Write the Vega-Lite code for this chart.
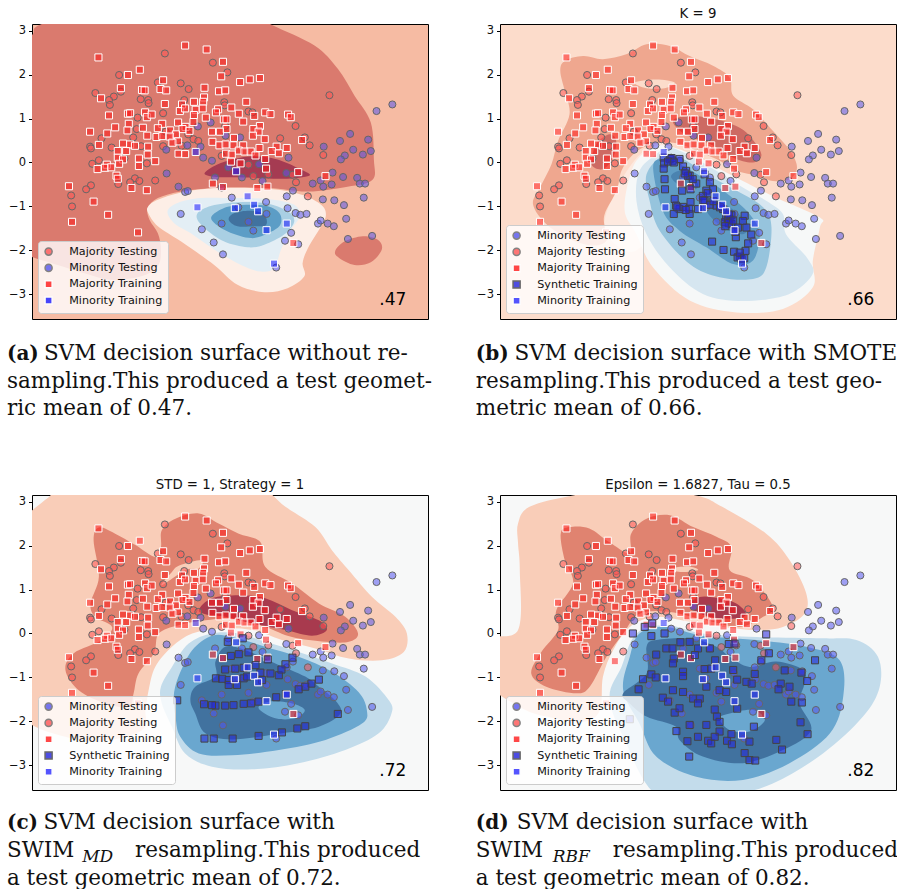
{"$schema":"https://vega.github.io/schema/vega-lite/v6.json","padding":{"left":6,"top":6,"right":0,"bottom":0},"background":"white","bounds":"flush","spacing":{"row":176,"column":72},"columns":2,
"resolve":{"scale":{"color":"independent","fill":"independent","stroke":"independent","shape":"independent","size":"independent","fillOpacity":"independent"},"legend":{"fill":"independent","stroke":"independent","shape":"independent","size":"independent","fillOpacity":"independent"}},
"config":{"font":"DejaVu Sans","legend":{"orient":"bottom-left","offset":6,"fillColor":"rgba(255,255,255,0.8)","strokeColor":"#cccccc","cornerRadius":3,"padding":5,"labelFontSize":11.2,"labelColor":"#111","labelFont":"DejaVu Sans","rowPadding":2.3,"symbolSize":40,"symbolOpacity":0.8,"labelOffset":15,"titleLimit":0,"labelLimit":0},"axis":{"labelFontSize":11.5,"labelColor":"#111","tickColor":"#000","tickSize":3.5,"domain":false,"grid":false,"labelPadding":3},"title":{"font":"DejaVu Sans","fontSize":13.3,"fontWeight":"normal","offset":4,"color":"#111"}},
"datasets":{
"tests":[
{"c":"MT","x":3.02,"y":2.48},{"c":"MT","x":4.11,"y":2.27},{"c":"MT","x":4.44,"y":2.05},{"c":"MT","x":1.98,"y":1.99},{"c":"MT","x":2.86,"y":1.82},{"c":"MT","x":3.38,"y":1.8},{"c":"MT","x":3.56,"y":1.67},{"c":"MT","x":1.44,"y":1.58},{"c":"MT","x":2.02,"y":1.61},{"c":"MT","x":1.86,"y":1.5},{"c":"MT","x":1.75,"y":1.42},{"c":"MT","x":1.77,"y":1.31},{"c":"MT","x":2.47,"y":1.44},{"c":"MT","x":2.64,"y":1.42},{"c":"MT","x":2.65,"y":1.35},{"c":"MT","x":3.46,"y":1.42},{"c":"MT","x":4.37,"y":1.37},{"c":"MT","x":4.38,"y":1.3},{"c":"MT","x":2.98,"y":1.12},{"c":"MT","x":2.4,"y":1.02},{"c":"MT","x":4.92,"y":1.16},{"c":"MT","x":5.01,"y":1.14},{"c":"MT","x":6.76,"y":1.53},{"c":"MT","x":5.99,"y":0.83},{"c":"MT","x":2.38,"y":0.76},{"c":"MT","x":3.04,"y":0.7},{"c":"MT","x":2.3,"y":0.57},{"c":"MT","x":1.58,"y":0.55},{"c":"MT","x":1.32,"y":0.36},{"c":"MT","x":1.34,"y":0.32},{"c":"MT","x":1.81,"y":0.34},{"c":"MT","x":2.48,"y":0.37},{"c":"MT","x":2.98,"y":0.37},{"c":"MT","x":3.4,"y":0.38},{"c":"MT","x":3.67,"y":0.53},{"c":"MT","x":3.78,"y":0.49},{"c":"MT","x":5.64,"y":0.55},{"c":"MT","x":6.2,"y":0.57},{"c":"MT","x":6.31,"y":0.39},{"c":"MT","x":6.62,"y":0.17},{"c":"MT","x":1.52,"y":0.05},{"c":"MT","x":1.37,"y":-0.03},{"c":"MT","x":2.1,"y":0.09},{"c":"MT","x":2.61,"y":-0.02},{"c":"MT","x":4.92,"y":-0.05},{"c":"MT","x":2.34,"y":-0.36},{"c":"MT","x":2.23,"y":-0.45},{"c":"MT","x":2.44,"y":-0.42},{"c":"MT","x":1.96,"y":-0.49},{"c":"MT","x":2.8,"y":-0.41},{"c":"MT","x":1.34,"y":-0.52},{"c":"MT","x":1.23,"y":-0.61},{"c":"MT","x":0.89,"y":-0.75},{"c":"MT","x":0.91,"y":-1.0},{"c":"MT","x":5.92,"y":-0.28},{"c":"MT","x":6.0,"y":-0.45},{"c":"MT","x":6.27,"y":-0.77},{"c":"MT","x":5.03,"y":-0.31},{"c":"MT","x":5.37,"y":-0.27},{"c":"MT","x":4.31,"y":0.15},{"c":"MT","x":4.39,"y":0.83},{"c":"MT","x":3.55,"y":0.64},
{"c":"NT","x":8.19,"y":1.32},{"c":"NT","x":7.83,"y":1.17},{"c":"NT","x":7.23,"y":0.65},{"c":"NT","x":7.0,"y":0.49},{"c":"NT","x":7.64,"y":0.52},{"c":"NT","x":6.63,"y":0.36},{"c":"NT","x":7.3,"y":0.29},{"c":"NT","x":7.7,"y":0.26},{"c":"NT","x":7.11,"y":0.16},{"c":"NT","x":7.02,"y":0.07},{"c":"NT","x":7.52,"y":0.18},{"c":"NT","x":6.83,"y":-0.23},{"c":"NT","x":5.78,"y":-0.24},{"c":"NT","x":7.07,"y":-0.33},{"c":"NT","x":7.39,"y":-0.35},{"c":"NT","x":6.56,"y":-0.41},{"c":"NT","x":6.38,"y":-0.48},{"c":"NT","x":6.62,"y":-0.55},{"c":"NT","x":6.81,"y":-0.5},{"c":"NT","x":7.45,"y":-0.48},{"c":"NT","x":7.57,"y":-0.48},{"c":"NT","x":5.93,"y":-0.64},{"c":"NT","x":5.79,"y":-0.77},{"c":"NT","x":6.61,"y":-0.84},{"c":"NT","x":6.87,"y":-0.86},{"c":"NT","x":7.09,"y":-0.97},{"c":"NT","x":7.54,"y":-0.8},{"c":"NT","x":5.81,"y":-1.04},{"c":"NT","x":5.99,"y":-1.15},{"c":"NT","x":6.1,"y":-1.19},{"c":"NT","x":6.24,"y":-1.17},{"c":"NT","x":6.5,"y":-1.39},{"c":"NT","x":6.56,"y":-1.32},{"c":"NT","x":6.72,"y":-1.39},{"c":"NT","x":6.86,"y":-1.45},{"c":"NT","x":7.14,"y":-1.28},{"c":"NT","x":7.18,"y":-1.74},{"c":"NT","x":7.73,"y":-1.67},{"c":"NT","x":5.89,"y":-1.6},{"c":"NT","x":6.05,"y":-1.86},{"c":"NT","x":3.06,"y":-0.25},{"c":"NT","x":3.33,"y":-0.55},{"c":"NT","x":3.48,"y":-0.67},{"c":"NT","x":3.54,"y":-0.65},{"c":"NT","x":3.38,"y":-1.17},{"c":"NT","x":3.86,"y":-1.52},{"c":"NT","x":4.13,"y":-1.82},{"c":"NT","x":4.34,"y":-2.09},{"c":"NT","x":5.55,"y":-2.39},{"c":"NT","x":3.05,"y":0.29},{"c":"NT","x":3.77,"y":0.82},{"c":"NT","x":4.06,"y":0.91},{"c":"NT","x":4.4,"y":0.61},{"c":"NT","x":4.73,"y":0.57},{"c":"NT","x":5.83,"y":0.11},{"c":"NT","x":5.16,"y":-0.04},{"c":"NT","x":5.24,"y":-0.42},{"c":"NT","x":3.83,"y":0.36},{"c":"NT","x":3.53,"y":0.39},{"c":"NT","x":5.32,"y":-0.9},{"c":"NT","x":4.31,"y":-1.39},{"c":"NT","x":4.92,"y":-1.35},{"c":"NT","x":5.03,"y":-1.55},{"c":"NT","x":5.33,"y":-1.17},{"c":"NT","x":5.75,"y":-1.78},{"c":"NT","x":4.31,"y":-0.57},{"c":"NT","x":4.16,"y":-0.34},{"c":"NT","x":4.77,"y":-0.34},{"c":"NT","x":4.54,"y":-0.8},{"c":"NT","x":3.89,"y":0.11},{"c":"NT","x":4.09,"y":0.04},{"c":"NT","x":4.46,"y":-0.11},{"c":"NT","x":4.69,"y":-1.02}],
"majR":[
{"c":"MR","x":1.51,"y":2.39},{"c":"MR","x":3.48,"y":2.66},{"c":"MR","x":3.97,"y":2.57},{"c":"MR","x":4.34,"y":2.29},{"c":"MR","x":2.45,"y":2.11},{"c":"MR","x":2.18,"y":1.99},{"c":"MR","x":2.98,"y":1.87},{"c":"MR","x":4.3,"y":1.96},{"c":"MR","x":4.73,"y":1.83},{"c":"MR","x":4.95,"y":1.89},{"c":"MR","x":5.18,"y":1.92},{"c":"MR","x":2.02,"y":1.69},{"c":"MR","x":2.5,"y":1.65},{"c":"MR","x":2.56,"y":1.64},{"c":"MR","x":2.92,"y":1.67},{"c":"MR","x":3.05,"y":1.64},{"c":"MR","x":3.92,"y":1.7},{"c":"MR","x":4.25,"y":1.62},{"c":"MR","x":4.39,"y":1.64},{"c":"MR","x":1.57,"y":1.46},{"c":"MR","x":3.91,"y":1.48},{"c":"MR","x":3.02,"y":1.33},{"c":"MR","x":3.68,"y":1.38},{"c":"MR","x":3.89,"y":1.38},{"c":"MR","x":4.87,"y":1.38},{"c":"MR","x":3.41,"y":1.32},{"c":"MR","x":3.36,"y":1.17},{"c":"MR","x":3.48,"y":1.23},{"c":"MR","x":3.72,"y":1.2},{"c":"MR","x":3.88,"y":1.23},{"c":"MR","x":4.53,"y":1.25},{"c":"MR","x":4.23,"y":1.21},{"c":"MR","x":4.18,"y":1.14},{"c":"MR","x":4.7,"y":1.11},{"c":"MR","x":5.3,"y":1.14},{"c":"MR","x":5.42,"y":1.1},{"c":"MR","x":5.05,"y":1.06},{"c":"MR","x":5.82,"y":1.09},{"c":"MR","x":5.88,"y":1.03},{"c":"MR","x":2.18,"y":1.11},{"c":"MR","x":2.23,"y":1.12},{"c":"MR","x":2.57,"y":1.14},{"c":"MR","x":2.61,"y":1.03},{"c":"MR","x":2.72,"y":1.09},{"c":"MR","x":1.75,"y":1.07},{"c":"MR","x":3.68,"y":1.08},{"c":"MR","x":3.95,"y":1.02},{"c":"MR","x":4.36,"y":0.98},{"c":"MR","x":4.42,"y":0.98},{"c":"MR","x":4.8,"y":0.93},{"c":"MR","x":3.67,"y":0.92},{"c":"MR","x":3.32,"y":0.91},{"c":"MR","x":2.96,"y":0.88},{"c":"MR","x":2.2,"y":0.88},{"c":"MR","x":1.89,"y":0.8},{"c":"MR","x":5.18,"y":0.83},{"c":"MR","x":5.03,"y":0.76},{"c":"MR","x":4.42,"y":0.76},{"c":"MR","x":2.86,"y":0.78},{"c":"MR","x":2.52,"y":0.79},{"c":"MR","x":3.49,"y":0.81},{"c":"MR","x":3.42,"y":0.76},{"c":"MR","x":3.58,"y":0.72},{"c":"MR","x":2.17,"y":0.73},{"c":"MR","x":3.14,"y":0.73},{"c":"MR","x":1.32,"y":0.7},{"c":"MR","x":1.71,"y":0.66},{"c":"MR","x":4.09,"y":0.7},{"c":"MR","x":4.27,"y":0.7},{"c":"MR","x":5.15,"y":0.7},{"c":"MR","x":3.27,"y":0.64},{"c":"MR","x":2.62,"y":0.61},{"c":"MR","x":2.83,"y":0.58},{"c":"MR","x":2.96,"y":0.6},{"c":"MR","x":3.13,"y":0.59},{"c":"MR","x":5.02,"y":0.61},{"c":"MR","x":4.59,"y":0.56},{"c":"MR","x":5.29,"y":0.53},{"c":"MR","x":6.14,"y":0.51},{"c":"MR","x":3.32,"y":0.48},{"c":"MR","x":3.19,"y":0.45},{"c":"MR","x":4.1,"y":0.47},{"c":"MR","x":1.52,"y":0.4},{"c":"MR","x":2.07,"y":0.43},{"c":"MR","x":2.23,"y":0.41},{"c":"MR","x":2.34,"y":0.38},{"c":"MR","x":2.64,"y":0.36},{"c":"MR","x":4.26,"y":0.39},{"c":"MR","x":4.4,"y":0.41},{"c":"MR","x":4.58,"y":0.39},{"c":"MR","x":4.8,"y":0.39},{"c":"MR","x":5.17,"y":0.33},{"c":"MR","x":5.56,"y":0.36},{"c":"MR","x":5.79,"y":0.33},{"c":"MR","x":1.95,"y":0.26},{"c":"MR","x":2.14,"y":0.26},{"c":"MR","x":4.7,"y":0.27},{"c":"MR","x":4.83,"y":0.25},{"c":"MR","x":4.97,"y":0.25},{"c":"MR","x":5.45,"y":0.26},{"c":"MR","x":5.61,"y":0.21},{"c":"MR","x":3.33,"y":0.2},{"c":"MR","x":3.48,"y":0.19},{"c":"MR","x":4.41,"y":0.2},{"c":"MR","x":4.54,"y":0.18},{"c":"MR","x":2.63,"y":0.18},{"c":"MR","x":5.08,"y":0.16},{"c":"MR","x":1.95,"y":0.11},{"c":"MR","x":2.43,"y":0.09},{"c":"MR","x":5.3,"y":0.08},{"c":"MR","x":2.07,"y":0.07},{"c":"MR","x":2.8,"y":0.03},{"c":"MR","x":1.98,"y":-0.03},{"c":"MR","x":4.52,"y":0.02},{"c":"MR","x":4.74,"y":-0.02},{"c":"MR","x":1.7,"y":-0.05},{"c":"MR","x":2.43,"y":-0.08},{"c":"MR","x":1.66,"y":-0.12},{"c":"MR","x":1.49,"y":-0.15},{"c":"MR","x":1.8,"y":-0.11},{"c":"MR","x":5.32,"y":-0.14},{"c":"MR","x":6.05,"y":-0.22},{"c":"MR","x":6.67,"y":-0.31},{"c":"MR","x":1.92,"y":-0.3},{"c":"MR","x":1.95,"y":-0.37},{"c":"MR","x":0.84,"y":-0.54},{"c":"MR","x":2.26,"y":-0.58},{"c":"MR","x":2.61,"y":-0.63},{"c":"MR","x":4.11,"y":-0.48},{"c":"MR","x":4.34,"y":-0.56},{"c":"MR","x":5.12,"y":-0.58},{"c":"MR","x":5.35,"y":-0.55},{"c":"MR","x":1.4,"y":-0.89},{"c":"MR","x":1.73,"y":-1.19},{"c":"MR","x":0.91,"y":-1.35},{"c":"MR","x":2.41,"y":-1.59},{"c":"MR","x":5.94,"y":-1.83}],
"minR":[{"c":"NR","x":3.72,"y":0.24},{"c":"NR","x":4.64,"y":-0.2},{"c":"NR","x":4.9,"y":-0.77},{"c":"NR","x":5.05,"y":-0.96},{"c":"NR","x":5.14,"y":-1.11},{"c":"NR","x":4.61,"y":-1.04},{"c":"NR","x":3.76,"y":-1.02},{"c":"NR","x":5.79,"y":-1.39},{"c":"NR","x":5.33,"y":-1.54},{"c":"NR","x":5.5,"y":-2.3}],
"synB":[{"c":"S","x":3.72,"y":0.11},{"c":"S","x":3.73,"y":-0.02},{"c":"S","x":3.72,"y":-0.14},{"c":"S","x":3.86,"y":0.08},{"c":"S","x":3.92,"y":0.04},{"c":"S","x":4.08,"y":0.08},{"c":"S","x":4.16,"y":-0.09},{"c":"S","x":4.23,"y":-0.19},{"c":"S","x":4.31,"y":-0.3},{"c":"S","x":4.46,"y":-0.48},{"c":"S","x":3.74,"y":-0.38},{"c":"S","x":3.75,"y":-0.61},{"c":"S","x":3.97,"y":-0.83},{"c":"S","x":4.33,"y":-0.9},{"c":"S","x":4.65,"y":-0.27},{"c":"S","x":4.77,"y":-0.45},{"c":"S","x":4.84,"y":-0.61},{"c":"S","x":4.69,"y":-0.64},{"c":"S","x":4.61,"y":-0.76},{"c":"S","x":4.65,"y":-0.87},{"c":"S","x":4.77,"y":-0.96},{"c":"S","x":4.92,"y":-0.98},{"c":"S","x":5.07,"y":-1.06},{"c":"S","x":4.08,"y":-1.06},{"c":"S","x":4.16,"y":-1.01},{"c":"S","x":3.95,"y":-1.17},{"c":"S","x":4.31,"y":-1.17},{"c":"S","x":4.5,"y":-1.06},{"c":"S","x":4.14,"y":-0.64},{"c":"S","x":4.33,"y":-0.61},{"c":"S","x":4.27,"y":-0.3},{"c":"S","x":5.14,"y":-1.25},{"c":"S","x":5.22,"y":-1.29},{"c":"S","x":5.11,"y":-1.36},{"c":"S","x":5.26,"y":-1.4},{"c":"S","x":5.56,"y":-1.21},{"c":"S","x":5.52,"y":-1.33},{"c":"S","x":5.6,"y":-1.48},{"c":"S","x":5.41,"y":-1.48},{"c":"S","x":5.71,"y":-1.64},{"c":"S","x":5.36,"y":-1.7},{"c":"S","x":5.64,"y":-1.84},{"c":"S","x":4.82,"y":-1.8},{"c":"S","x":5.08,"y":-1.99},{"c":"S","x":5.32,"y":-2.03},{"c":"S","x":5.58,"y":-2.01},{"c":"S","x":5.45,"y":-2.14},{"c":"S","x":5.49,"y":-2.2},{"c":"S","x":5.18,"y":-1.28},{"c":"S","x":5.2,"y":-1.38},{"c":"S","x":3.9,"y":0.1},{"c":"S","x":4.0,"y":-0.98},{"c":"S","x":4.62,"y":-0.86},{"c":"S","x":4.3,"y":-1.05},{"c":"S","x":5.4,"y":-2.16},{"c":"S","x":5.26,"y":-1.2},{"c":"S","x":3.82,"y":0.02},{"c":"S","x":3.95,"y":0.0},{"c":"S","x":4.2,"y":-0.25},{"c":"S","x":4.38,"y":-0.38},{"c":"S","x":4.03,"y":-1.02},{"c":"S","x":4.22,"y":-1.08},{"c":"S","x":4.72,"y":-0.7},{"c":"S","x":4.85,"y":-0.88},{"c":"S","x":5.0,"y":-1.02},{"c":"S","x":5.2,"y":-1.18},{"c":"S","x":5.3,"y":-1.32},{"c":"S","x":5.12,"y":-1.45},{"c":"S","x":5.35,"y":-1.58},{"c":"S","x":5.45,"y":-2.05},{"c":"S","x":5.55,"y":-2.18}],
"synC":[{"c":"S","x":4.45,"y":-0.19},{"c":"S","x":4.79,"y":-0.11},{"c":"S","x":4.52,"y":-0.51},{"c":"S","x":4.7,"y":-0.47},{"c":"S","x":4.92,"y":-0.43},{"c":"S","x":5.36,"y":-0.59},{"c":"S","x":5.76,"y":-0.7},{"c":"S","x":5.92,"y":-0.55},{"c":"S","x":4.39,"y":-0.82},{"c":"S","x":4.62,"y":-0.8},{"c":"S","x":4.81,"y":-0.78},{"c":"S","x":5.08,"y":-0.72},{"c":"S","x":5.19,"y":-0.89},{"c":"S","x":5.42,"y":-0.91},{"c":"S","x":5.61,"y":-0.95},{"c":"S","x":5.67,"y":-0.82},{"c":"S","x":4.18,"y":-1.02},{"c":"S","x":4.32,"y":-1.03},{"c":"S","x":4.47,"y":-1.06},{"c":"S","x":4.81,"y":-1.02},{"c":"S","x":4.89,"y":-0.98},{"c":"S","x":5.23,"y":-1.06},{"c":"S","x":4.66,"y":-1.17},{"c":"S","x":4.47,"y":-1.17},{"c":"S","x":6.52,"y":-1.05},{"c":"S","x":6.35,"y":-1.14},{"c":"S","x":6.21,"y":-1.21},{"c":"S","x":6.06,"y":-1.27},{"c":"S","x":5.77,"y":-1.38},{"c":"S","x":5.55,"y":-1.45},{"c":"S","x":5.15,"y":-1.55},{"c":"S","x":4.98,"y":-1.59},{"c":"S","x":4.81,"y":-1.6},{"c":"S","x":4.58,"y":-1.63},{"c":"S","x":4.39,"y":-1.64},{"c":"S","x":4.17,"y":-1.64},{"c":"S","x":4.09,"y":-1.63},{"c":"S","x":3.91,"y":-1.61},{"c":"S","x":3.3,"y":-1.52},{"c":"S","x":6.95,"y":-1.83},{"c":"S","x":6.21,"y":-2.11},{"c":"S","x":6.03,"y":-2.16},{"c":"S","x":5.68,"y":-2.25},{"c":"S","x":5.15,"y":-2.33},{"c":"S","x":4.56,"y":-2.39},{"c":"S","x":4.13,"y":-2.39},{"c":"S","x":3.92,"y":-2.39}],
"synD":[{"c":"S","x":3.29,"y":0.15},{"c":"S","x":3.46,"y":0.23},{"c":"S","x":3.02,"y":0.0},{"c":"S","x":3.44,"y":-0.06},{"c":"S","x":6.05,"y":-0.02},{"c":"S","x":3.74,"y":0.0},{"c":"S","x":4.1,"y":-0.2},{"c":"S","x":4.31,"y":-0.19},{"c":"S","x":4.5,"y":-0.34},{"c":"S","x":5.2,"y":-0.24},{"c":"S","x":5.33,"y":-0.23},{"c":"S","x":3.78,"y":-0.34},{"c":"S","x":3.92,"y":-0.34},{"c":"S","x":4.77,"y":-0.34},{"c":"S","x":3.55,"y":-0.48},{"c":"S","x":4.43,"y":-0.49},{"c":"S","x":6.11,"y":-0.45},{"c":"S","x":3.95,"y":-0.57},{"c":"S","x":3.93,"y":-0.68},{"c":"S","x":4.89,"y":-0.61},{"c":"S","x":7.16,"y":-0.61},{"c":"S","x":5.94,"y":-0.61},{"c":"S","x":4.65,"y":-0.81},{"c":"S","x":4.8,"y":-0.8},{"c":"S","x":5.3,"y":-0.83},{"c":"S","x":5.79,"y":-0.92},{"c":"S","x":6.47,"y":-0.84},{"c":"S","x":6.85,"y":-0.89},{"c":"S","x":4.16,"y":-0.87},{"c":"S","x":4.16,"y":-0.97},{"c":"S","x":3.44,"y":-0.93},{"c":"S","x":3.25,"y":-1.04},{"c":"S","x":3.54,"y":-1.0},{"c":"S","x":6.98,"y":-1.08},{"c":"S","x":5.39,"y":-1.05},{"c":"S","x":5.6,"y":-1.1},{"c":"S","x":5.72,"y":-1.14},{"c":"S","x":6.38,"y":-1.14},{"c":"S","x":6.58,"y":-1.21},{"c":"S","x":6.33,"y":-1.27},{"c":"S","x":3.15,"y":-1.27},{"c":"S","x":3.93,"y":-1.29},{"c":"S","x":4.16,"y":-1.33},{"c":"S","x":4.69,"y":-1.21},{"c":"S","x":4.99,"y":-1.29},{"c":"S","x":5.14,"y":-1.33},{"c":"S","x":3.7,"y":-1.46},{"c":"S","x":3.82,"y":-1.55},{"c":"S","x":4.39,"y":-1.48},{"c":"S","x":4.54,"y":-1.48},{"c":"S","x":4.5,"y":-1.59},{"c":"S","x":6.62,"y":-1.55},{"c":"S","x":6.86,"y":-1.57},{"c":"S","x":5.39,"y":-1.71},{"c":"S","x":4.88,"y":-1.73},{"c":"S","x":3.97,"y":-1.8},{"c":"S","x":4.08,"y":-1.7},{"c":"S","x":4.93,"y":-1.89},{"c":"S","x":4.99,"y":-2.01},{"c":"S","x":4.69,"y":-2.08},{"c":"S","x":4.31,"y":-2.08},{"c":"S","x":5.77,"y":-2.12},{"c":"S","x":6.83,"y":-2.02},{"c":"S","x":6.99,"y":-2.29},{"c":"S","x":4.99,"y":-2.23},{"c":"S","x":4.01,"y":-2.22},{"c":"S","x":4.5,"y":-2.35},{"c":"S","x":4.26,"y":-2.45},{"c":"S","x":4.73,"y":-2.44},{"c":"S","x":4.8,"y":-2.5},{"c":"S","x":4.88,"y":-2.35},{"c":"S","x":5.16,"y":-2.44},{"c":"S","x":5.27,"y":-2.52},{"c":"S","x":5.26,"y":-2.29},{"c":"S","x":5.67,"y":-2.46},{"c":"S","x":6.28,"y":-2.42},{"c":"S","x":6.41,"y":-2.64},{"c":"S","x":5.56,"y":-2.72},{"c":"S","x":5.67,"y":-2.88},{"c":"S","x":5.8,"y":-2.89},{"c":"S","x":4.3,"y":-2.8},{"c":"S","x":2.95,"y":-1.95}],
"ra":[
{"p":1,"x":-0.4,"y":2.6},{"p":1,"x":0.0,"y":2.9},{"p":1,"x":0.25,"y":3.16},{"p":1,"x":2,"y":3.6},{"p":1,"x":4.5,"y":3.6},{"p":1,"x":5.43,"y":3.14},{"p":1,"x":6.42,"y":2.66},{"p":1,"x":6.95,"y":2.13},{"p":1,"x":7.33,"y":1.52},{"p":1,"x":7.7,"y":0.91},{"p":1,"x":7.77,"y":0.07},{"p":1,"x":7.74,"y":-0.39},{"p":1,"x":7.17,"y":-0.55},{"p":1,"x":6.27,"y":-0.66},{"p":1,"x":5.36,"y":-0.58},{"p":1,"x":4.22,"y":-0.58},{"p":1,"x":3.39,"y":-0.66},{"p":1,"x":2.86,"y":-0.81},{"p":1,"x":2.63,"y":-1.04},{"p":1,"x":2.67,"y":-1.3},{"p":1,"x":2.86,"y":-1.61},{"p":1,"x":2.93,"y":-1.98},{"p":1,"x":2.86,"y":-2.36},{"p":1,"x":2.48,"y":-2.59},{"p":1,"x":1.8,"y":-2.67},{"p":1,"x":1.19,"y":-2.52},{"p":1,"x":0.58,"y":-2.33},{"p":1,"x":0.0,"y":-2.15},{"p":1,"x":-0.6,"y":-1.9},{"p":1,"x":-0.6,"y":0.5},
{"p":2,"x":6.89,"y":-2.02},{"p":2,"x":7.1,"y":-1.8},{"p":2,"x":7.52,"y":-1.68},{"p":2,"x":7.86,"y":-1.76},{"p":2,"x":7.95,"y":-1.98},{"p":2,"x":7.7,"y":-2.27},{"p":2,"x":7.33,"y":-2.33},{"p":2,"x":6.98,"y":-2.17},
{"p":3,"x":3.92,"y":-0.25},{"p":3,"x":4.2,"y":-0.05},{"p":3,"x":4.6,"y":0.08},{"p":3,"x":5.05,"y":0.14},{"p":3,"x":5.58,"y":0.07},{"p":3,"x":6.11,"y":-0.16},{"p":3,"x":6.3,"y":-0.3},{"p":3,"x":5.7,"y":-0.37},{"p":3,"x":4.8,"y":-0.34},{"p":3,"x":4.2,"y":-0.33},
{"p":4,"x":2.64,"y":-1.0},{"p":4,"x":2.86,"y":-0.85},{"p":4,"x":3.39,"y":-0.68},{"p":4,"x":4.22,"y":-0.58},{"p":4,"x":5.36,"y":-0.6},{"p":4,"x":6.11,"y":-0.73},{"p":4,"x":6.57,"y":-0.96},{"p":4,"x":6.68,"y":-1.19},{"p":4,"x":6.57,"y":-1.45},{"p":4,"x":6.27,"y":-1.95},{"p":4,"x":6.15,"y":-2.29},{"p":4,"x":6.19,"y":-2.59},{"p":4,"x":5.81,"y":-2.86},{"p":4,"x":5.28,"y":-2.95},{"p":4,"x":4.67,"y":-2.78},{"p":4,"x":4.14,"y":-2.33},{"p":4,"x":3.39,"y":-1.8},{"p":4,"x":2.86,"y":-1.45},{"p":4,"x":2.64,"y":-1.15},
{"p":5,"x":3.08,"y":-1.11},{"p":5,"x":3.31,"y":-0.92},{"p":5,"x":3.84,"y":-0.81},{"p":5,"x":4.6,"y":-0.81},{"p":5,"x":5.36,"y":-0.83},{"p":5,"x":5.96,"y":-0.96},{"p":5,"x":6.08,"y":-1.23},{"p":5,"x":5.89,"y":-1.53},{"p":5,"x":5.66,"y":-1.98},{"p":5,"x":5.51,"y":-2.4},{"p":5,"x":5.2,"y":-2.48},{"p":5,"x":4.75,"y":-2.33},{"p":5,"x":4.14,"y":-1.98},{"p":5,"x":3.61,"y":-1.61},{"p":5,"x":3.23,"y":-1.38},
{"p":6,"x":3.74,"y":-1.23},{"p":6,"x":3.92,"y":-1.04},{"p":6,"x":4.45,"y":-0.92},{"p":6,"x":5.28,"y":-0.92},{"p":6,"x":5.81,"y":-1.11},{"p":6,"x":5.96,"y":-1.34},{"p":6,"x":5.73,"y":-1.64},{"p":6,"x":5.28,"y":-1.87},{"p":6,"x":4.9,"y":-1.93},{"p":6,"x":4.37,"y":-1.8},{"p":6,"x":3.92,"y":-1.49},
{"p":7,"x":4.08,"y":-1.3},{"p":7,"x":4.22,"y":-1.11},{"p":7,"x":4.6,"y":-0.98},{"p":7,"x":5.28,"y":-0.98},{"p":7,"x":5.62,"y":-1.15},{"p":7,"x":5.64,"y":-1.42},{"p":7,"x":5.36,"y":-1.61},{"p":7,"x":4.98,"y":-1.72},{"p":7,"x":4.45,"y":-1.57},
{"p":8,"x":4.47,"y":-1.3},{"p":8,"x":4.6,"y":-1.15},{"p":8,"x":4.98,"y":-1.1},{"p":8,"x":5.28,"y":-1.19},{"p":8,"x":5.32,"y":-1.42},{"p":8,"x":5.05,"y":-1.45},{"p":8,"x":4.67,"y":-1.45}],
"rb":[
{"p":1,"x":2.38,"y":-1.3},{"p":1,"x":2.7,"y":-0.5},{"p":1,"x":3.2,"y":0.2},{"p":1,"x":3.78,"y":0.45},{"p":1,"x":3.78,"y":-1.0},{"p":1,"x":3.1,"y":-2.0},{"p":1,"x":2.5,"y":-1.75},
{"p":2,"x":1.37,"y":2.08},{"p":2,"x":1.47,"y":2.31},{"p":2,"x":1.89,"y":2.42},{"p":2,"x":2.34,"y":2.35},{"p":2,"x":2.87,"y":2.46},{"p":2,"x":3.33,"y":2.69},{"p":2,"x":3.86,"y":2.65},{"p":2,"x":4.31,"y":2.42},{"p":2,"x":4.84,"y":2.2},{"p":2,"x":5.22,"y":1.93},{"p":2,"x":5.3,"y":1.52},{"p":2,"x":5.75,"y":1.21},{"p":2,"x":6.2,"y":0.72},{"p":2,"x":6.59,"y":0.27},{"p":2,"x":6.75,"y":-0.11},{"p":2,"x":6.59,"y":-0.38},{"p":2,"x":6.2,"y":-0.42},{"p":2,"x":5.83,"y":-0.3},{"p":2,"x":5.37,"y":-0.19},{"p":2,"x":4.99,"y":0.04},{"p":2,"x":4.46,"y":0.27},{"p":2,"x":4.08,"y":0.42},{"p":2,"x":3.71,"y":0.45},{"p":2,"x":3.33,"y":0.38},{"p":2,"x":2.99,"y":0.15},{"p":2,"x":2.76,"y":-0.19},{"p":2,"x":2.65,"y":-0.64},{"p":2,"x":2.38,"y":-1.17},{"p":2,"x":2.38,"y":-1.48},{"p":2,"x":2.42,"y":-1.78},{"p":2,"x":2.11,"y":-1.89},{"p":2,"x":1.58,"y":-1.74},{"p":2,"x":1.05,"y":-1.4},{"p":2,"x":0.75,"y":-0.95},{"p":2,"x":0.91,"y":-0.57},{"p":2,"x":1.17,"y":-0.04},{"p":2,"x":1.32,"y":0.49},{"p":2,"x":1.58,"y":1.1},{"p":2,"x":1.47,"y":1.63},
{"p":3,"x":3.06,"y":1.82},{"p":3,"x":3.55,"y":1.89},{"p":3,"x":3.97,"y":1.82},{"p":3,"x":3.74,"y":1.69},{"p":3,"x":3.33,"y":1.69},
{"p":4,"x":3.93,"y":0.95},{"p":4,"x":4.31,"y":1.06},{"p":4,"x":4.92,"y":0.98},{"p":4,"x":5.37,"y":0.83},{"p":4,"x":5.67,"y":0.61},{"p":4,"x":5.94,"y":0.19},{"p":4,"x":5.75,"y":0.0},{"p":4,"x":5.3,"y":0.11},{"p":4,"x":4.77,"y":0.42},{"p":4,"x":4.2,"y":0.64},
{"p":5,"x":2.08,"y":-0.04},{"p":5,"x":2.19,"y":0.42},{"p":5,"x":2.49,"y":0.64},{"p":5,"x":2.64,"y":0.49},{"p":5,"x":2.57,"y":0.11},{"p":5,"x":2.34,"y":-0.15},
{"p":6,"x":2.83,"y":-1.06},{"p":6,"x":3.02,"y":-0.11},{"p":6,"x":3.4,"y":0.3},{"p":6,"x":3.78,"y":0.38},{"p":6,"x":4.46,"y":0.15},{"p":6,"x":4.92,"y":-0.11},{"p":6,"x":5.52,"y":-0.42},{"p":6,"x":6.28,"y":-0.8},{"p":6,"x":7.27,"y":-1.25},{"p":6,"x":7.27,"y":-1.48},{"p":6,"x":7.11,"y":-2.23},{"p":6,"x":7.11,"y":-2.84},{"p":6,"x":6.43,"y":-3.33},{"p":6,"x":5.37,"y":-3.41},{"p":6,"x":4.31,"y":-3.14},{"p":6,"x":3.48,"y":-2.39},{"p":6,"x":3.1,"y":-1.63},
{"p":7,"x":3.1,"y":-0.87},{"p":7,"x":3.17,"y":-0.19},{"p":7,"x":3.55,"y":0.19},{"p":7,"x":3.86,"y":0.34},{"p":7,"x":4.46,"y":0.08},{"p":7,"x":4.92,"y":-0.19},{"p":7,"x":5.52,"y":-0.57},{"p":7,"x":6.05,"y":-0.87},{"p":7,"x":6.43,"y":-1.17},{"p":7,"x":6.5,"y":-1.63},{"p":7,"x":6.98,"y":-2.17},{"p":7,"x":7.1,"y":-2.55},{"p":7,"x":6.55,"y":-3.0},{"p":7,"x":5.53,"y":-3.15},{"p":7,"x":4.61,"y":-2.99},{"p":7,"x":3.86,"y":-2.39},{"p":7,"x":3.33,"y":-1.63},
{"p":8,"x":3.4,"y":-0.87},{"p":8,"x":3.33,"y":-0.27},{"p":8,"x":3.7,"y":0.15},{"p":8,"x":4.16,"y":0.08},{"p":8,"x":4.69,"y":-0.27},{"p":8,"x":5.37,"y":-0.64},{"p":8,"x":5.98,"y":-1.02},{"p":8,"x":6.17,"y":-1.48},{"p":8,"x":6.05,"y":-2.39},{"p":8,"x":5.75,"y":-2.65},{"p":8,"x":4.99,"y":-2.61},{"p":8,"x":4.31,"y":-2.31},{"p":8,"x":3.63,"y":-1.55},
{"p":9,"x":3.48,"y":-0.11},{"p":9,"x":3.7,"y":0.08},{"p":9,"x":4.08,"y":-0.04},{"p":9,"x":4.54,"y":-0.3},{"p":9,"x":5.07,"y":-0.64},{"p":9,"x":5.67,"y":-1.17},{"p":9,"x":5.9,"y":-1.63},{"p":9,"x":5.75,"y":-2.23},{"p":9,"x":5.3,"y":-2.31},{"p":9,"x":4.69,"y":-1.93},{"p":9,"x":4.08,"y":-1.55},{"p":9,"x":3.7,"y":-1.1},
{"p":10,"x":3.89,"y":-0.34},{"p":10,"x":4.08,"y":-0.19},{"p":10,"x":4.39,"y":-0.3},{"p":10,"x":4.5,"y":-0.57},{"p":10,"x":4.23,"y":-0.61},
{"p":11,"x":4.77,"y":-0.8},{"p":11,"x":5.22,"y":-1.02},{"p":11,"x":5.64,"y":-1.4},{"p":11,"x":5.52,"y":-1.63},{"p":11,"x":5.07,"y":-1.48},{"p":11,"x":4.69,"y":-1.1}],
"rc":[
{"p":1,"x":-0.5,"y":2.4},{"p":1,"x":0.0,"y":2.8},{"p":1,"x":0.38,"y":3.1},{"p":1,"x":0.8,"y":3.4},{"p":1,"x":3,"y":3.7},{"p":1,"x":5.0,"y":3.4},{"p":1,"x":5.76,"y":2.88},{"p":1,"x":6.44,"y":2.42},{"p":1,"x":6.82,"y":1.89},{"p":1,"x":7.2,"y":1.44},{"p":1,"x":7.73,"y":0.83},{"p":1,"x":8.26,"y":0.38},{"p":1,"x":8.52,"y":0.0},{"p":1,"x":8.45,"y":-0.42},{"p":1,"x":7.95,"y":-0.61},{"p":1,"x":7.2,"y":-0.57},{"p":1,"x":6.44,"y":-0.34},{"p":1,"x":5.68,"y":-0.15},{"p":1,"x":5.0,"y":0.08},{"p":1,"x":4.24,"y":0.11},{"p":1,"x":3.64,"y":0.0},{"p":1,"x":3.18,"y":-0.3},{"p":1,"x":2.8,"y":-0.76},{"p":1,"x":2.65,"y":-1.29},{"p":1,"x":2.58,"y":-1.74},{"p":1,"x":2.5,"y":-2.2},{"p":1,"x":1.52,"y":-2.46},{"p":1,"x":0.76,"y":-2.35},{"p":1,"x":0.0,"y":-2.08},{"p":1,"x":-0.6,"y":-1.6},{"p":1,"x":-0.6,"y":0.5},
{"p":2,"x":1.4,"y":2.12},{"p":2,"x":1.52,"y":2.41},{"p":2,"x":1.89,"y":2.27},{"p":2,"x":2.35,"y":2.01},{"p":2,"x":2.8,"y":1.74},{"p":2,"x":2.93,"y":1.97},{"p":2,"x":2.95,"y":2.35},{"p":2,"x":3.26,"y":2.61},{"p":2,"x":3.79,"y":2.73},{"p":2,"x":4.24,"y":2.5},{"p":2,"x":4.7,"y":2.27},{"p":2,"x":5.19,"y":2.08},{"p":2,"x":5.3,"y":1.52},{"p":2,"x":5.91,"y":1.14},{"p":2,"x":6.52,"y":0.68},{"p":2,"x":7.12,"y":0.38},{"p":2,"x":7.41,"y":0.0},{"p":2,"x":7.2,"y":-0.19},{"p":2,"x":6.67,"y":-0.19},{"p":2,"x":5.91,"y":-0.08},{"p":2,"x":5.3,"y":0.15},{"p":2,"x":4.55,"y":0.34},{"p":2,"x":3.94,"y":0.3},{"p":2,"x":3.33,"y":0.19},{"p":2,"x":2.88,"y":0.0},{"p":2,"x":2.77,"y":-0.45},{"p":2,"x":2.42,"y":-0.91},{"p":2,"x":2.31,"y":-1.36},{"p":2,"x":2.2,"y":-1.67},{"p":2,"x":1.67,"y":-1.59},{"p":2,"x":1.06,"y":-1.29},{"p":2,"x":0.76,"y":-0.83},{"p":2,"x":0.95,"y":-0.45},{"p":2,"x":1.59,"y":-0.15},{"p":2,"x":1.82,"y":0.15},{"p":2,"x":1.44,"y":0.38},{"p":2,"x":1.33,"y":0.68},{"p":2,"x":1.52,"y":1.29},
{"p":3,"x":3.18,"y":1.4},{"p":3,"x":3.36,"y":1.55},{"p":3,"x":3.86,"y":1.67},{"p":3,"x":3.79,"y":1.48},{"p":3,"x":3.48,"y":1.44},{"p":3,"x":2.95,"y":1.1},
{"p":4,"x":3.79,"y":0.53},{"p":4,"x":4.09,"y":0.8},{"p":4,"x":4.7,"y":0.87},{"p":4,"x":5.3,"y":0.8},{"p":4,"x":5.91,"y":0.53},{"p":4,"x":6.52,"y":0.3},{"p":4,"x":6.7,"y":0.08},{"p":4,"x":6.36,"y":-0.05},{"p":4,"x":5.76,"y":0.08},{"p":4,"x":5.0,"y":0.23},{"p":4,"x":4.39,"y":0.38},{"p":4,"x":4.02,"y":0.42},
{"p":5,"x":2.93,"y":-1.21},{"p":5,"x":3.18,"y":-0.76},{"p":5,"x":3.56,"y":-0.23},{"p":5,"x":4.09,"y":0.0},{"p":5,"x":4.7,"y":0.0},{"p":5,"x":5.3,"y":-0.19},{"p":5,"x":6.06,"y":-0.42},{"p":5,"x":6.82,"y":-0.68},{"p":5,"x":7.58,"y":-0.98},{"p":5,"x":8.11,"y":-1.52},{"p":5,"x":8.17,"y":-1.82},{"p":5,"x":7.88,"y":-2.27},{"p":5,"x":7.12,"y":-2.65},{"p":5,"x":6.06,"y":-2.95},{"p":5,"x":5.0,"y":-3.09},{"p":5,"x":4.09,"y":-3.03},{"p":5,"x":3.48,"y":-2.73},{"p":5,"x":3.18,"y":-2.12},{"p":5,"x":2.95,"y":-1.59},
{"p":6,"x":3.22,"y":-1.44},{"p":6,"x":3.33,"y":-0.98},{"p":6,"x":3.64,"y":-0.38},{"p":6,"x":4.09,"y":-0.05},{"p":6,"x":4.55,"y":-0.08},{"p":6,"x":5.3,"y":-0.3},{"p":6,"x":6.06,"y":-0.53},{"p":6,"x":6.82,"y":-0.87},{"p":6,"x":7.42,"y":-1.33},{"p":6,"x":7.61,"y":-1.74},{"p":6,"x":7.5,"y":-2.05},{"p":6,"x":6.67,"y":-2.42},{"p":6,"x":5.61,"y":-2.65},{"p":6,"x":4.55,"y":-2.77},{"p":6,"x":3.79,"y":-2.73},{"p":6,"x":3.37,"y":-2.35},{"p":6,"x":3.26,"y":-1.89},
{"p":7,"x":3.6,"y":-1.52},{"p":7,"x":3.71,"y":-1.21},{"p":7,"x":4.17,"y":-0.98},{"p":7,"x":4.17,"y":-0.64},{"p":7,"x":4.39,"y":-0.3},{"p":7,"x":4.85,"y":-0.38},{"p":7,"x":5.53,"y":-0.68},{"p":7,"x":6.21,"y":-0.98},{"p":7,"x":6.52,"y":-1.21},{"p":7,"x":6.89,"y":-1.52},{"p":7,"x":7.01,"y":-1.82},{"p":7,"x":6.52,"y":-2.12},{"p":7,"x":5.68,"y":-2.27},{"p":7,"x":4.55,"y":-2.41},{"p":7,"x":3.94,"y":-2.27},{"p":7,"x":3.71,"y":-1.82},
{"p":8,"x":5.15,"y":-1.7},{"p":8,"x":5.38,"y":-1.55},{"p":8,"x":5.91,"y":-1.59},{"p":8,"x":6.2,"y":-1.74},{"p":8,"x":5.98,"y":-1.93},{"p":8,"x":5.53,"y":-1.93}],
"rd":[
{"p":1,"x":0.41,"y":2.5},{"p":1,"x":0.67,"y":2.88},{"p":1,"x":1.66,"y":3.14},{"p":1,"x":3,"y":3.3},{"p":1,"x":4.45,"y":3.14},{"p":1,"x":5.05,"y":2.88},{"p":1,"x":6.05,"y":2.27},{"p":1,"x":6.58,"y":1.67},{"p":1,"x":6.96,"y":0.91},{"p":1,"x":6.92,"y":0.45},{"p":1,"x":6.43,"y":0.15},{"p":1,"x":5.83,"y":0.08},{"p":1,"x":5.07,"y":0.15},{"p":1,"x":4.31,"y":0.27},{"p":1,"x":3.55,"y":0.38},{"p":1,"x":2.95,"y":0.15},{"p":1,"x":2.57,"y":-0.38},{"p":1,"x":2.34,"y":-0.98},{"p":1,"x":2.27,"y":-1.74},{"p":1,"x":1.89,"y":-2.01},{"p":1,"x":1.05,"y":-1.89},{"p":1,"x":0.45,"y":-1.67},{"p":1,"x":-0.3,"y":-1.1},{"p":1,"x":-0.3,"y":-0.15},{"p":1,"x":0.41,"y":0.08},{"p":1,"x":0.45,"y":1.44},{"p":1,"x":0.41,"y":2.05},
{"p":2,"x":1.38,"y":2.27},{"p":2,"x":1.58,"y":2.42},{"p":2,"x":2.03,"y":2.39},{"p":2,"x":2.48,"y":2.08},{"p":2,"x":2.95,"y":1.82},{"p":2,"x":2.98,"y":2.27},{"p":2,"x":3.33,"y":2.61},{"p":2,"x":3.86,"y":2.69},{"p":2,"x":4.39,"y":2.42},{"p":2,"x":4.92,"y":2.2},{"p":2,"x":5.26,"y":1.97},{"p":2,"x":5.22,"y":1.44},{"p":2,"x":5.75,"y":1.21},{"p":2,"x":6.2,"y":0.61},{"p":2,"x":5.98,"y":0.38},{"p":2,"x":5.45,"y":0.15},{"p":2,"x":4.69,"y":0.3},{"p":2,"x":3.86,"y":0.49},{"p":2,"x":3.17,"y":0.45},{"p":2,"x":2.8,"y":0.0},{"p":2,"x":2.42,"y":-0.53},{"p":2,"x":2.04,"y":-1.21},{"p":2,"x":1.74,"y":-1.36},{"p":2,"x":1.05,"y":-1.21},{"p":2,"x":0.71,"y":-0.91},{"p":2,"x":0.94,"y":-0.42},{"p":2,"x":1.32,"y":0.08},{"p":2,"x":1.28,"y":0.53},{"p":2,"x":1.66,"y":1.14},{"p":2,"x":1.47,"y":1.67},
{"p":3,"x":3.89,"y":1.48},{"p":3,"x":4.31,"y":1.52},{"p":3,"x":4.5,"y":1.44},{"p":3,"x":4.1,"y":1.4},
{"p":4,"x":4.31,"y":0.61},{"p":4,"x":4.54,"y":0.83},{"p":4,"x":4.99,"y":0.8},{"p":4,"x":5.37,"y":0.68},{"p":4,"x":5.59,"y":0.45},{"p":4,"x":5.37,"y":0.34},{"p":4,"x":4.77,"y":0.38},
{"p":5,"x":2.49,"y":-1.44},{"p":5,"x":2.76,"y":-0.76},{"p":5,"x":3.1,"y":0.0},{"p":5,"x":3.78,"y":0.19},{"p":5,"x":4.61,"y":0.0},{"p":5,"x":5.83,"y":-0.08},{"p":5,"x":7.34,"y":-0.11},{"p":5,"x":8.1,"y":-0.15},{"p":5,"x":8.59,"y":-0.53},{"p":5,"x":8.63,"y":-1.21},{"p":5,"x":8.25,"y":-1.89},{"p":5,"x":7.34,"y":-2.73},{"p":5,"x":6.2,"y":-3.41},{"p":5,"x":5.07,"y":-3.7},{"p":5,"x":3.6,"y":-3.7},{"p":5,"x":2.8,"y":-2.35},
{"p":6,"x":2.8,"y":-1.29},{"p":6,"x":2.95,"y":-0.53},{"p":6,"x":3.17,"y":0.0},{"p":6,"x":3.78,"y":0.15},{"p":6,"x":4.61,"y":-0.05},{"p":6,"x":5.83,"y":-0.15},{"p":6,"x":6.96,"y":-0.3},{"p":6,"x":7.72,"y":-0.61},{"p":6,"x":7.8,"y":-1.44},{"p":6,"x":7.5,"y":-2.27},{"p":6,"x":6.58,"y":-2.95},{"p":6,"x":5.52,"y":-3.33},{"p":6,"x":4.46,"y":-3.26},{"p":6,"x":3.55,"y":-2.8},{"p":6,"x":3.17,"y":-2.05},
{"p":7,"x":2.8,"y":-1.36},{"p":7,"x":3.33,"y":-0.91},{"p":7,"x":3.33,"y":-0.3},{"p":7,"x":3.55,"y":-0.15},{"p":7,"x":4.31,"y":-0.11},{"p":7,"x":4.92,"y":-0.3},{"p":7,"x":5.22,"y":-0.53},{"p":7,"x":5.67,"y":-0.76},{"p":7,"x":6.28,"y":-0.64},{"p":7,"x":6.89,"y":-0.83},{"p":7,"x":6.92,"y":-1.14},{"p":7,"x":6.81,"y":-1.59},{"p":7,"x":7.07,"y":-2.2},{"p":7,"x":6.43,"y":-2.65},{"p":7,"x":5.52,"y":-2.95},{"p":7,"x":4.61,"y":-2.8},{"p":7,"x":4.08,"y":-2.42},{"p":7,"x":4.0,"y":-2.12},{"p":7,"x":3.33,"y":-1.89},{"p":7,"x":2.95,"y":-1.59},
{"p":8,"x":4.99,"y":-1.93},{"p":8,"x":5.22,"y":-1.82},{"p":8,"x":5.75,"y":-1.74},{"p":8,"x":6.02,"y":-1.97},{"p":8,"x":5.67,"y":-2.23},{"p":8,"x":5.22,"y":-2.2}]
},
"concat":[
{"width":396,"height":295,"view":{"fill":"#f6bba3","stroke":"#000"},"layer":[
{"data":{"name":"ra"},"mark":{"type":"line","filled":true,"strokeWidth":0,"interpolate":"cardinal-closed","clip":true},"encoding":{"x":{"field":"x","type":"quantitative","scale":{"domain":[0,9],"nice":false,"zero":false},"axis":null},"y":{"field":"y","type":"quantitative","scale":{"domain":[-3.56,3.15],"nice":false,"zero":false},"axis":{"values":[-3,-2,-1,0,1,2,3],"title":null}},"order":{"value":null},"color":{"field":"p","type":"nominal","legend":null,"scale":{"domain":[1,2,3,4,5,6,7,8],"range":["#da7a6e","#da7a6e","#a53b52","#fdeee6","#e3eef5","#a9cfe3","#5c9dc6","#41729f"]}}}},
{"encoding":{"x":{"field":"x","type":"quantitative"},"y":{"field":"y","type":"quantitative"},"fill":{"field":"c","type":"nominal","title":null,"scale":{"domain":["MT","NT","MR","NR"],"range":["#ff5555","#5555ee","#ff1a1a","#1a1aff"]}},"stroke":{"field":"c","type":"nominal","title":null,"scale":{"domain":["MT","NT","MR","NR"],"range":["#666666","#666666","#ffffff","#ffffff"]}},"shape":{"field":"c","type":"nominal","title":null,"scale":{"domain":["MT","NT","MR","NR"],"range":["circle","circle","square","square"]},"legend":{"labelExpr":"{'MT':'Majority Testing','NT':'Minority Testing','MR':'Majority Training','NR':'Minority Training'}[datum.label]"}},"size":{"field":"c","type":"nominal","title":null,"scale":{"domain":["MT","NT","MR","NR"],"range":[50,50,40,40]}},"fillOpacity":{"field":"c","type":"nominal","title":null,"scale":{"domain":["MT","NT","MR","NR"],"range":[0.55,0.55,1,1]}}},
"layer":[{"data":{"name":"tests"},"mark":{"type":"point","filled":true,"opacity":1,"strokeWidth":1}},{"data":{"name":"majR"},"mark":{"type":"point","filled":true,"opacity":1,"strokeWidth":1}},{"data":{"name":"minR"},"mark":{"type":"point","filled":true,"opacity":1,"strokeWidth":1}}]},
{"data":{"values":[{"t":".47","x":8.2,"y":-3.13}]},"mark":{"type":"text","fontSize":17,"font":"DejaVu Sans","color":"#000","baseline":"middle"},"encoding":{"x":{"field":"x","type":"quantitative"},"y":{"field":"y","type":"quantitative"},"text":{"field":"t"}}},
{"data":{"values":[{"t":"(a)","x":-0.57,"y":-4.35}]},"mark":{"type":"text","fontSize":20,"font":"DejaVu Serif","fontWeight":"bold","align":"left","baseline":"middle","color":"#111","clip":false},"encoding":{"x":{"field":"x","type":"quantitative"},"y":{"field":"y","type":"quantitative"},"text":{"field":"t"}}},
{"data":{"values":[{"t":"SVM decision surface without re-","x":0.27,"y":-4.35},{"t":"sampling.This produced a test geomet-","x":-0.57,"y":-4.99},{"t":"ric mean of 0.47.","x":-0.57,"y":-5.61}]},"mark":{"type":"text","fontSize":21.5,"font":"DejaVu Serif","align":"left","baseline":"middle","color":"#111","clip":false},"encoding":{"x":{"field":"x","type":"quantitative"},"y":{"field":"y","type":"quantitative"},"text":{"field":"t"}}}
]},
{"width":396,"height":295,"title":"K = 9","view":{"fill":"#fcdccb","stroke":"#000"},"layer":[
{"data":{"name":"rb"},"mark":{"type":"line","filled":true,"strokeWidth":0,"interpolate":"cardinal-closed","clip":true},"encoding":{"x":{"field":"x","type":"quantitative","scale":{"domain":[0,9],"nice":false,"zero":false},"axis":null},"y":{"field":"y","type":"quantitative","scale":{"domain":[-3.56,3.15],"nice":false,"zero":false},"axis":{"values":[-3,-2,-1,0,1,2,3],"title":null}},"order":{"value":null},"color":{"field":"p","type":"nominal","legend":null,"scale":{"domain":[1,2,3,4,5,6,7,8,9,10,11],"range":["#fde9df","#efa78f","#fcdccb","#cd6a63","#cd6a63","#f6f8f8","#d6e6f0","#96c4dd","#5f9cc4","#4a83b0","#4a83b0"]}}}},
{"encoding":{"x":{"field":"x","type":"quantitative"},"y":{"field":"y","type":"quantitative"},"fill":{"field":"c","type":"nominal","title":null,"scale":{"domain":["NT","MT","MR","S","NR"],"range":["#5555ee","#ff5555","#ff1a1a","#2222dd","#2a2aff"]}},"stroke":{"field":"c","type":"nominal","title":null,"scale":{"domain":["NT","MT","MR","S","NR"],"range":["#666666","#666666","#ffffff","#444444","#ffffff"]}},"shape":{"field":"c","type":"nominal","title":null,"scale":{"domain":["NT","MT","MR","S","NR"],"range":["circle","circle","square","square","square"]},"legend":{"labelExpr":"{'MT':'Majority Testing','NT':'Minority Testing','MR':'Majority Training','NR':'Minority Training','S':'Synthetic Training'}[datum.label]"}},"size":{"field":"c","type":"nominal","title":null,"scale":{"domain":["NT","MT","MR","S","NR"],"range":[50,50,40,48,40]}},"fillOpacity":{"field":"c","type":"nominal","title":null,"scale":{"domain":["NT","MT","MR","S","NR"],"range":[0.55,0.55,1,0.9,1]}}},
"layer":[{"data":{"name":"tests"},"mark":{"type":"point","filled":true,"opacity":1,"strokeWidth":1}},{"data":{"name":"majR"},"mark":{"type":"point","filled":true,"opacity":1,"strokeWidth":1}},{"data":{"name":"synB"},"mark":{"type":"point","filled":true,"opacity":1,"strokeWidth":1}},{"data":{"name":"minR"},"mark":{"type":"point","filled":true,"opacity":1,"strokeWidth":1}}]},
{"data":{"values":[{"t":".66","x":8.2,"y":-3.13}]},"mark":{"type":"text","fontSize":17,"font":"DejaVu Sans","color":"#000","baseline":"middle"},"encoding":{"x":{"field":"x","type":"quantitative"},"y":{"field":"y","type":"quantitative"},"text":{"field":"t"}}},
{"data":{"values":[{"t":"(b)","x":-0.55,"y":-4.35}]},"mark":{"type":"text","fontSize":20,"font":"DejaVu Serif","fontWeight":"bold","align":"left","baseline":"middle","color":"#111","clip":false},"encoding":{"x":{"field":"x","type":"quantitative"},"y":{"field":"y","type":"quantitative"},"text":{"field":"t"}}},
{"data":{"values":[{"t":"SVM decision surface with SMOTE","x":0.33,"y":-4.35},{"t":"resampling.This produced a test geo-","x":-0.55,"y":-4.99},{"t":"metric mean of 0.66.","x":-0.55,"y":-5.61}]},"mark":{"type":"text","fontSize":21.5,"font":"DejaVu Serif","align":"left","baseline":"middle","color":"#111","clip":false},"encoding":{"x":{"field":"x","type":"quantitative"},"y":{"field":"y","type":"quantitative"},"text":{"field":"t"}}}
]},
{"width":396,"height":295,"title":"STD = 1, Strategy = 1","view":{"fill":"#f7f8f8","stroke":"#000"},"layer":[
{"data":{"name":"rc"},"mark":{"type":"line","filled":true,"strokeWidth":0,"interpolate":"cardinal-closed","clip":true},"encoding":{"x":{"field":"x","type":"quantitative","scale":{"domain":[0,9],"nice":false,"zero":false},"axis":null},"y":{"field":"y","type":"quantitative","scale":{"domain":[-3.56,3.15],"nice":false,"zero":false},"axis":{"values":[-3,-2,-1,0,1,2,3],"title":null}},"order":{"value":null},"color":{"field":"p","type":"nominal","legend":null,"scale":{"domain":[1,2,3,4,5,6,7,8],"range":["#f9cdb8","#e08370","#f9cdb8","#a83a4e","#c3dceb","#6aa7cf","#41729f","#6aa7cf"]}}}},
{"encoding":{"x":{"field":"x","type":"quantitative"},"y":{"field":"y","type":"quantitative"},"fill":{"field":"c","type":"nominal","title":null,"scale":{"domain":["NT","MT","MR","S","NR"],"range":["#5555ee","#ff5555","#ff1a1a","#2222dd","#2a2aff"]}},"stroke":{"field":"c","type":"nominal","title":null,"scale":{"domain":["NT","MT","MR","S","NR"],"range":["#666666","#666666","#ffffff","#444444","#ffffff"]}},"shape":{"field":"c","type":"nominal","title":null,"scale":{"domain":["NT","MT","MR","S","NR"],"range":["circle","circle","square","square","square"]},"legend":{"labelExpr":"{'MT':'Majority Testing','NT':'Minority Testing','MR':'Majority Training','NR':'Minority Training','S':'Synthetic Training'}[datum.label]"}},"size":{"field":"c","type":"nominal","title":null,"scale":{"domain":["NT","MT","MR","S","NR"],"range":[50,50,40,48,40]}},"fillOpacity":{"field":"c","type":"nominal","title":null,"scale":{"domain":["NT","MT","MR","S","NR"],"range":[0.55,0.55,1,0.9,1]}}},
"layer":[{"data":{"name":"tests"},"mark":{"type":"point","filled":true,"opacity":1,"strokeWidth":1}},{"data":{"name":"majR"},"mark":{"type":"point","filled":true,"opacity":1,"strokeWidth":1}},{"data":{"name":"synC"},"mark":{"type":"point","filled":true,"opacity":1,"strokeWidth":1}},{"data":{"name":"minR"},"mark":{"type":"point","filled":true,"opacity":1,"strokeWidth":1}}]},
{"data":{"values":[{"t":".72","x":8.2,"y":-3.13}]},"mark":{"type":"text","fontSize":17,"font":"DejaVu Sans","color":"#000","baseline":"middle"},"encoding":{"x":{"field":"x","type":"quantitative"},"y":{"field":"y","type":"quantitative"},"text":{"field":"t"}}},
{"data":{"values":[{"t":"(c)","x":-0.57,"y":-4.31}]},"mark":{"type":"text","fontSize":20,"font":"DejaVu Serif","fontWeight":"bold","align":"left","baseline":"middle","color":"#111","clip":false},"encoding":{"x":{"field":"x","type":"quantitative"},"y":{"field":"y","type":"quantitative"},"text":{"field":"t"}}},
{"data":{"values":[{"t":"SVM decision surface with","x":0.26,"y":-4.31},{"t":"SWIM","x":-0.57,"y":-4.95},{"t":"resampling.This produced","x":2.34,"y":-4.95},{"t":"a test geometric mean of 0.72.","x":-0.57,"y":-5.59}]},"mark":{"type":"text","fontSize":21.5,"font":"DejaVu Serif","align":"left","baseline":"middle","color":"#111","clip":false},"encoding":{"x":{"field":"x","type":"quantitative"},"y":{"field":"y","type":"quantitative"},"text":{"field":"t"}}},
{"data":{"values":[{"t":"MD","x":1.14,"y":-5.09}]},"mark":{"type":"text","fontSize":17,"font":"DejaVu Serif","fontStyle":"italic","align":"left","baseline":"middle","color":"#111","clip":false},"encoding":{"x":{"field":"x","type":"quantitative"},"y":{"field":"y","type":"quantitative"},"text":{"field":"t"}}}
]},
{"width":396,"height":295,"title":"Epsilon = 1.6827, Tau = 0.5","view":{"fill":"#f7f8f8","stroke":"#000"},"layer":[
{"data":{"name":"rd"},"mark":{"type":"line","filled":true,"strokeWidth":0,"interpolate":"cardinal-closed","clip":true},"encoding":{"x":{"field":"x","type":"quantitative","scale":{"domain":[0,9],"nice":false,"zero":false},"axis":null},"y":{"field":"y","type":"quantitative","scale":{"domain":[-3.56,3.15],"nice":false,"zero":false},"axis":{"values":[-3,-2,-1,0,1,2,3],"title":null}},"order":{"value":null},"color":{"field":"p","type":"nominal","legend":null,"scale":{"domain":[1,2,3,4,5,6,7,8],"range":["#f9cdb8","#e08370","#f9cdb8","#a83a4e","#c3dceb","#6aa7cf","#41729f","#6aa7cf"]}}}},
{"encoding":{"x":{"field":"x","type":"quantitative"},"y":{"field":"y","type":"quantitative"},"fill":{"field":"c","type":"nominal","title":null,"scale":{"domain":["NT","MT","MR","S","NR"],"range":["#5555ee","#ff5555","#ff1a1a","#2222dd","#2a2aff"]}},"stroke":{"field":"c","type":"nominal","title":null,"scale":{"domain":["NT","MT","MR","S","NR"],"range":["#666666","#666666","#ffffff","#444444","#ffffff"]}},"shape":{"field":"c","type":"nominal","title":null,"scale":{"domain":["NT","MT","MR","S","NR"],"range":["circle","circle","square","square","square"]},"legend":{"labelExpr":"{'MT':'Majority Testing','NT':'Minority Testing','MR':'Majority Training','NR':'Minority Training','S':'Synthetic Training'}[datum.label]"}},"size":{"field":"c","type":"nominal","title":null,"scale":{"domain":["NT","MT","MR","S","NR"],"range":[50,50,40,48,40]}},"fillOpacity":{"field":"c","type":"nominal","title":null,"scale":{"domain":["NT","MT","MR","S","NR"],"range":[0.55,0.55,1,0.9,1]}}},
"layer":[{"data":{"name":"tests"},"mark":{"type":"point","filled":true,"opacity":1,"strokeWidth":1}},{"data":{"name":"majR"},"mark":{"type":"point","filled":true,"opacity":1,"strokeWidth":1}},{"data":{"name":"synD"},"mark":{"type":"point","filled":true,"opacity":1,"strokeWidth":1}},{"data":{"name":"minR"},"mark":{"type":"point","filled":true,"opacity":1,"strokeWidth":1}}]},
{"data":{"values":[{"t":".82","x":8.2,"y":-3.13}]},"mark":{"type":"text","fontSize":17,"font":"DejaVu Sans","color":"#000","baseline":"middle"},"encoding":{"x":{"field":"x","type":"quantitative"},"y":{"field":"y","type":"quantitative"},"text":{"field":"t"}}},
{"data":{"values":[{"t":"(d)","x":-0.55,"y":-4.31}]},"mark":{"type":"text","fontSize":20,"font":"DejaVu Serif","fontWeight":"bold","align":"left","baseline":"middle","color":"#111","clip":false},"encoding":{"x":{"field":"x","type":"quantitative"},"y":{"field":"y","type":"quantitative"},"text":{"field":"t"}}},
{"data":{"values":[{"t":"SVM decision surface with","x":0.38,"y":-4.31},{"t":"SWIM","x":-0.55,"y":-4.95},{"t":"resampling.This produced","x":2.56,"y":-4.95},{"t":"a test geometric mean of 0.82.","x":-0.55,"y":-5.59}]},"mark":{"type":"text","fontSize":21.5,"font":"DejaVu Serif","align":"left","baseline":"middle","color":"#111","clip":false},"encoding":{"x":{"field":"x","type":"quantitative"},"y":{"field":"y","type":"quantitative"},"text":{"field":"t"}}},
{"data":{"values":[{"t":"RBF","x":1.2,"y":-5.09}]},"mark":{"type":"text","fontSize":17,"font":"DejaVu Serif","fontStyle":"italic","align":"left","baseline":"middle","color":"#111","clip":false},"encoding":{"x":{"field":"x","type":"quantitative"},"y":{"field":"y","type":"quantitative"},"text":{"field":"t"}}}
]}
]}
